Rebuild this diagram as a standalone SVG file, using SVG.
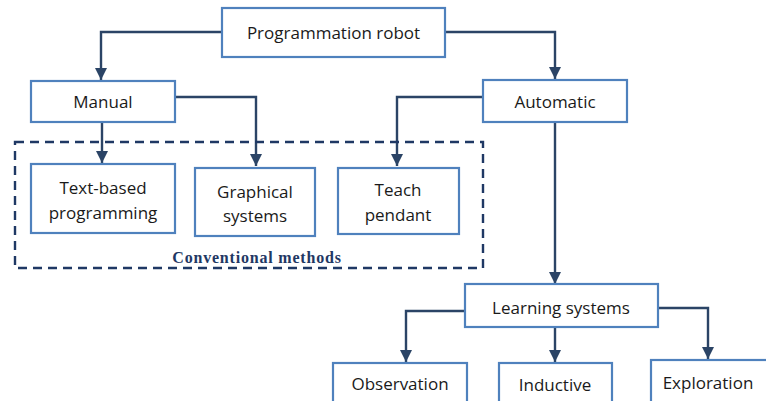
<svg xmlns="http://www.w3.org/2000/svg" width="766" height="401" viewBox="0 0 766 401">
<defs>
<style>
.box{fill:#fff;stroke:#4f81bd;stroke-width:2.2}
.t{font-family:"Open Sans","Noto Sans","Liberation Sans",sans-serif;font-size:17px;fill:#1a1a1a;text-anchor:middle}
.c{fill:none;stroke:#2b4466;stroke-width:2.4}
.dash{fill:none;stroke:#1f3864;stroke-width:2.4;stroke-dasharray:9,6}
.cm{font-family:"Liberation Serif","Times New Roman",serif;font-weight:bold;font-size:16px;fill:#1f3864;text-anchor:middle;letter-spacing:0.8px}
</style>
<marker id="ah" viewBox="0 0 10 10" refX="10" refY="5" markerWidth="5.5" markerHeight="5" orient="auto" markerUnits="strokeWidth">
<path d="M0,0 L10,5 L0,10 z" fill="#2b4466"/>
</marker>
</defs>
<rect width="766" height="401" fill="#fff"/>
<g id="connectors">
<path class="c" d="M222,32 H101 V80" marker-end="url(#ah)"/>
<path class="c" d="M445,32 H555 V79" marker-end="url(#ah)"/>
<path class="c" d="M102,122 V163" marker-end="url(#ah)"/>
<path class="c" d="M175,97 H256 V166" marker-end="url(#ah)"/>
<path class="c" d="M483,97 H397 V166" marker-end="url(#ah)"/>
<path class="c" d="M555,122 V284" marker-end="url(#ah)"/>
<path class="c" d="M465,311 H406 V362" marker-end="url(#ah)"/>
<path class="c" d="M555,327 V362" marker-end="url(#ah)"/>
<path class="c" d="M658,308 H708 V359" marker-end="url(#ah)"/>
</g>
<g id="conventional">
<rect class="dash" x="15" y="142" width="468" height="126"/>
<text class="cm" x="257" y="263">Conventional methods</text>
</g>
<g id="root"><rect class="box" x="222" y="8" width="223" height="49"/><text class="t" x="333.5" y="39">Programmation robot</text></g>
<g id="manual"><rect class="box" x="31" y="81" width="144" height="41"/><text class="t" x="103" y="108">Manual</text></g>
<g id="automatic"><rect class="box" x="483" y="80" width="144" height="42"/><text class="t" x="555" y="108">Automatic</text></g>
<g id="textbased"><rect class="box" x="31" y="164" width="144" height="69"/><text class="t" x="103" y="194">Text-based</text><text class="t" x="103" y="219">programming</text></g>
<g id="graphical"><rect class="box" x="195" y="168" width="120" height="68"/><text class="t" x="255" y="198">Graphical</text><text class="t" x="255" y="222">systems</text></g>
<g id="teach"><rect class="box" x="338" y="168" width="121" height="66"/><text class="t" x="398" y="196">Teach</text><text class="t" x="398" y="221">pendant</text></g>
<g id="learning"><rect class="box" x="465" y="284" width="193" height="43"/><text class="t" x="561" y="314">Learning systems</text></g>
<g id="observation"><rect class="box" x="333" y="363" width="134" height="42"/><text class="t" x="400" y="390">Observation</text></g>
<g id="inductive"><rect class="box" x="499" y="363" width="113" height="42"/><text class="t" x="555" y="391">Inductive</text></g>
<g id="exploration"><rect class="box" x="651" y="360" width="120" height="45"/><text class="t" x="708" y="389">Exploration</text></g>
</svg>
